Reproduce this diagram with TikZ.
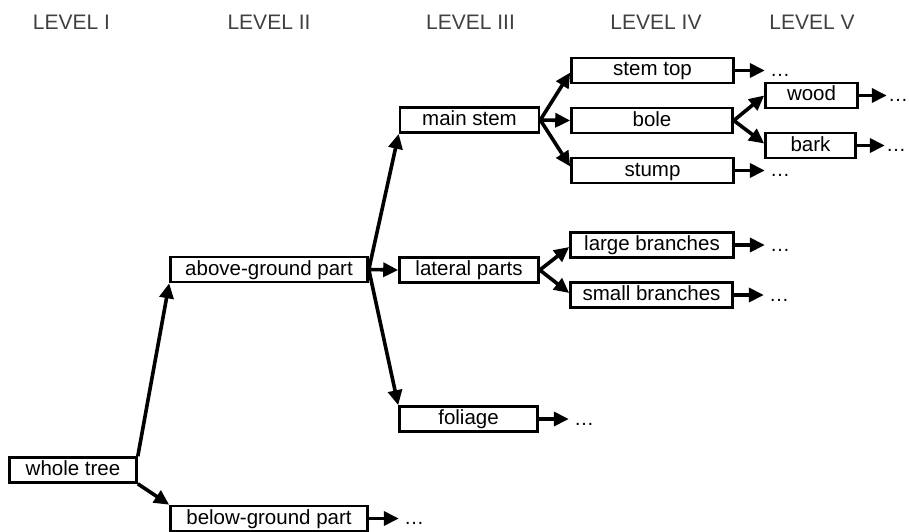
\documentclass[tikz,border=0pt]{standalone}
\usepackage{fontspec}
\setmainfont{Liberation Sans}
\usetikzlibrary{arrows.meta,calc}
\begin{document}
\begin{tikzpicture}[x=1pt,y=-1pt,
  box/.style={draw, line width=2.6pt, inner sep=0pt, minimum height=25pt, text height=15pt, text depth=4pt, font=\fontsize{20.5}{24}\selectfont, text=black},
  conn/.style={line width=3.6pt, -{Triangle[length=15pt,width=14pt]}},
  more/.style={font=\fontsize{20}{24}\selectfont, anchor=west, inner sep=0pt},
  lvl/.style={font=\fontsize{21}{25}\selectfont, text=black!75, inner sep=0pt}]
\useasboundingbox (0,0) rectangle (909,532);
% level headings
\node[lvl] (l1) at (71.5,22) {LEVEL I};
\node[lvl] (l2) at (269,22) {LEVEL II};
\node[lvl] (l3) at (470.5,22) {LEVEL III};
\node[lvl] (l4) at (656,22) {LEVEL IV};
\node[lvl] (l5) at (812,22) {LEVEL V};
% boxes
\node[box, minimum width=127pt] (whole) at (73,470) {whole tree};
\node[box, minimum width=197pt] (below) at (269,518.5) {below-ground part};
\node[box, minimum width=197pt] (above) at (269,269.5) {above-ground part};
\node[box, minimum width=139pt] (mainstem) at (469.5,120) {main stem};
\node[box, minimum width=139pt] (lateral) at (469,270) {lateral parts};
\node[box, minimum width=138pt] (foliage) at (468.5,419) {foliage};
\node[box, minimum width=162pt] (stemtop) at (652.5,70.5) {stem top};
\node[box, minimum width=161pt] (bole) at (652,120.5) {bole};
\node[box, minimum width=162pt] (stump) at (652.5,170.5) {stump};
\node[box, minimum width=163pt] (large) at (652,245) {large branches};
\node[box, minimum width=162pt] (small) at (651.5,295) {small branches};
\node[box, minimum width=92pt] (wood) at (811.5,95.5) {wood};
\node[box, minimum width=90pt] (bark) at (810.5,145.5) {bark};
% connectors
\draw[conn] (whole.north east) -- (above.south west);
\draw[conn] (whole.south east) -- (below.north west);
\draw[conn] (above.east) -- (mainstem.south west);
\draw[conn] (above.east) -- (lateral.west);
\draw[conn] (above.east) -- (foliage.north west);
\draw[conn] (mainstem.east) -- ($(stemtop.west)+(0,2)$);
\draw[conn] (mainstem.east) -- (bole.west);
\draw[conn] (mainstem.east) -- ($(stump.west)+(0,-4)$);
\draw[conn] (lateral.east) -- ($(large.west)+(0,2)$);
\draw[conn] (lateral.east) -- ($(small.west)+(0,-2)$);
\draw[conn] (bole.east) -- (wood.west);
\draw[conn] (bole.east) -- ($(bark.west)+(0,-2)$);
% continuation arrows
\foreach \n in {below,foliage,stemtop,stump,large,small}{
  \draw[conn] (\n.east) -- ++(30,0) coordinate (\n-end);
  \node[more] (\n-dots) at ($(\n-end)+(5,5)$) {…};
}
\foreach \n in {wood,bark}{
  \draw[conn] (\n.east) -- ++(28,0) coordinate (\n-end);
  \node[more] (\n-dots) at ($(\n-end)+(1,5)$) {…};
}
\end{tikzpicture}
\end{document}
